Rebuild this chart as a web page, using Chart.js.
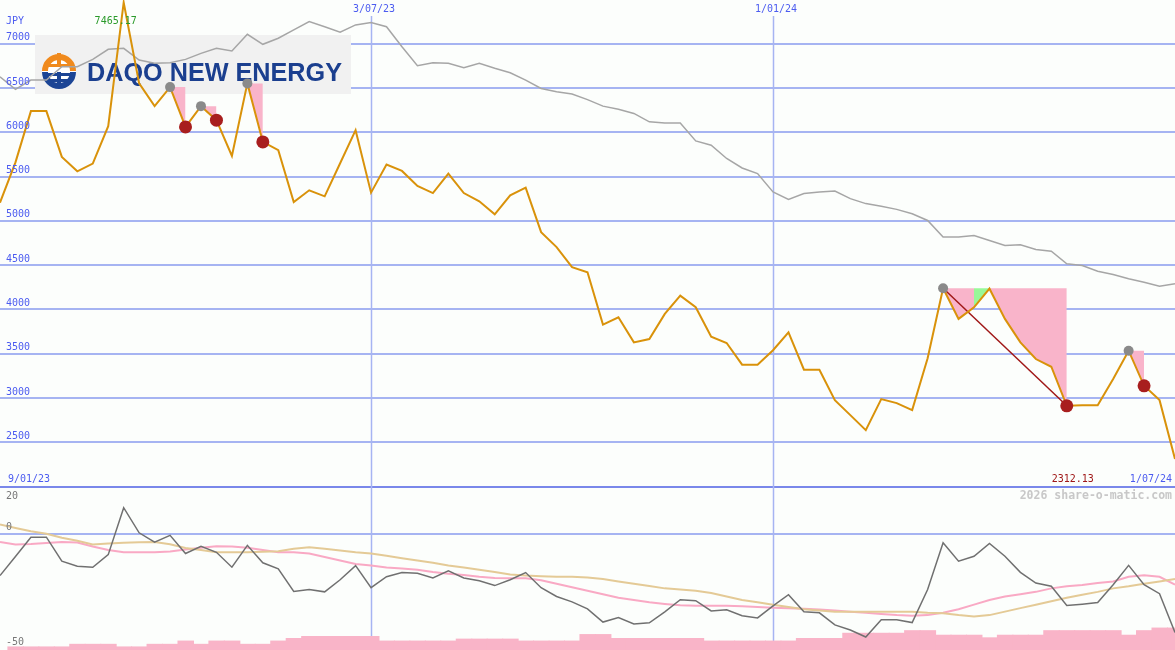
<!DOCTYPE html>
<html>
<head>
<meta charset="utf-8">
<script src="https://cdn.jsdelivr.net/npm/chart.js@4.4.0/dist/chart.umd.min.js"></script>
<style>
  html, body { margin: 0; padding: 0; background: #fcfefc; }
  canvas { display: block; }
</style>
</head>
<body>
<canvas id="chart" width="1175" height="650"></canvas>
<script>
// weekly closes, index 0 = 16/01/23 ... index 76 = 1/07/24
const price = [
  5206, 5660, 6239, 6239, 5722, 5560, 5647, 6069, 7465.17, 6552,
  6295, 6510, 6061, 6295, 6137, 5733, 6552, 5891, 5798, 5213,
  5345, 5277, 5650, 6024, 5319, 5636, 5564, 5394, 5314, 5534,
  5314, 5221, 5074, 5289, 5376, 4873, 4704, 4477, 4421, 3829,
  3912, 3629, 3667, 3950, 4157, 4025, 3693, 3622, 3377, 3377,
  3540, 3742, 3320, 3320, 2977, 2808, 2638, 2989, 2943, 2864,
  3450, 4240, 3894, 4025, 4235, 3894, 3629, 3441, 3354, 2913,
  2920, 2920, 3215, 3535, 3139, 2977, 2312.13
];
const average = [
  6627, 6484, 6589, 6589, 6740, 6740, 6823, 6937, 6948, 6816,
  6778, 6785, 6823, 6891, 6948, 6917, 7106, 6993, 7061, 7155,
  7249, 7192, 7129, 7212, 7238, 7192, 6966, 6751, 6785, 6778,
  6729, 6778, 6722, 6672, 6589, 6495, 6457, 6431, 6369, 6295,
  6261, 6213, 6118, 6106, 6106, 5903, 5854, 5704, 5597, 5534,
  5326, 5243, 5308, 5326, 5337, 5251, 5195, 5164, 5130, 5081,
  5005, 4817, 4817, 4836, 4779, 4723, 4731, 4678, 4658, 4516,
  4497, 4432, 4395, 4346, 4308, 4262, 4290
];
const momentum = [
  -18, -9.8, -1.5, -1.5, -11.8, -14, -14.4, -9, 11.2, 0.4,
  -3.6, -0.7, -8.5, -5.4, -8, -14.4, -5, -12.5, -15.1, -24.8,
  -24, -25, -19.8, -13.7, -23.2, -18.5, -16.7, -17, -19, -16,
  -19, -20.2, -22.3, -19.8, -16.7, -23.2, -27, -29.3, -32.3, -38,
  -36, -38.8, -38.3, -33.6, -28.4, -28.8, -33.2, -32.7, -35.3, -36.2,
  -31, -26.2, -33.6, -34, -39.2, -41.4, -44.4, -37, -37, -38.2,
  -24, -3.9, -11.8, -9.7, -4.2, -9.7, -16.6, -21.2, -22.6, -30.9,
  -30.3, -29.6, -21.9, -13.6, -21.9, -25.8, -42.5
];
const momentumFast = [
  -3.6, -4.6, -4.4, -4, -3.6, -3.8, -5.5, -7, -8, -8,
  -8, -7.6, -6.8, -6, -5.4, -5.5, -6, -7, -8, -8,
  -8.5, -10, -11.5, -13, -13.7, -14.5, -15, -15.5, -16.5, -17.2,
  -17.8, -18.5, -19, -19.2, -19.2, -20, -21.5, -23, -24.5, -26,
  -27.5, -28.5, -29.5, -30.2, -30.8, -31, -31, -31, -31.2, -31.5,
  -31.8, -32, -32.3, -32.6, -33, -33.5, -34, -34.5, -35, -35.3,
  -35, -34, -32.5, -30.5, -28.5, -27, -26, -25, -23.5, -22.6,
  -22, -21.2, -20.5, -18.5, -17.9, -18.5, -21.9
];
const momentumSlow = [
  4, 2.5, 1.1, 0, -1.7, -3, -4.6, -4.2, -3.9, -3.7,
  -3.6, -4.5, -6.1, -7, -8, -8, -8, -7.8, -7.5, -6.5,
  -5.8, -6.5, -7.2, -8, -8.5, -9.5, -10.5, -11.5, -12.5, -13.7,
  -14.5, -15.5, -16.5, -17.5, -18, -18.3, -18.5, -18.5, -18.8, -19.5,
  -20.5, -21.5, -22.5, -23.5, -24, -24.5, -25.5, -27, -28.5, -29.5,
  -30.5, -31.5, -32.5, -33, -33.5, -33.5, -33.5, -33.5, -33.5, -33.5,
  -34, -34.2, -35, -35.6, -35, -33.5, -32, -30.5, -29, -27.5,
  -26.2, -25, -23.5, -22.6, -21.5, -20.5, -19.5
];
// one bar per week (week i runs from point i to point i+1)
const volume = [
  5, 5, 5, 5, 9, 9, 9, 5, 5, 9,
  9, 14, 9, 14, 14, 9, 9, 14, 18, 21,
  21, 21, 21, 21, 14, 14, 14, 14, 14, 17,
  17, 17, 17, 14, 14, 14, 14, 24, 24, 18,
  18, 18, 18, 18, 18, 14, 14, 14, 14, 14,
  14, 18, 18, 18, 26, 26, 26, 26, 30, 30,
  23, 23, 23, 19, 23, 23, 23, 30, 30, 30,
  30, 30, 23, 30, 34, 34
];

const priceTicks = [2500, 3000, 3500, 4000, 4500, 5000, 5500, 6000, 6500, 7000];
const baseTick = 2000;
const lowerTicks = [20, 0, -50];
const dateLines = [24, 50];
const dateLineLabels = ['3/07/23', '1/01/24'];
const startLabel = '9/01/23';
const endLabel = '1/07/24';
const peaks = [11, 13, 16, 61, 73];
const troughs = [12, 14, 17, 69, 74];
// [peak, from, to]
const pinkZones = [[11, 11, 12], [13, 13, 14], [16, 16, 17], [61, 61, 63], [61, 64, 69], [73, 73, 74]];
const greenZones = [[61, 63, 64]];
const dropLine = [61, 69];
const highLabel = '7465.17';
const lowLabel = '2312.13';

const W = 1175;
const pts = arr => arr.map((v, i) => ({ x: i, y: v }));

const datasets = [
  { data: pts(price), borderColor: '#d9920a', borderWidth: 2, pointRadius: 0, fill: false, order: 2 },
  { data: pts(average), borderColor: '#a6a6a6', borderWidth: 1.5, pointRadius: 0, fill: false, order: 6 }
];
pinkZones.forEach(([p, a, b]) => datasets.push({
  data: [{ x: a, y: price[p] }, { x: b, y: price[p] }],
  borderColor: 'rgba(0,0,0,0)', backgroundColor: '#f9b4ca', pointRadius: 0, fill: 0, order: 8
}));
greenZones.forEach(([p, a, b]) => datasets.push({
  data: [{ x: a, y: price[p] }, { x: b, y: price[p] }],
  borderColor: 'rgba(0,0,0,0)', backgroundColor: '#98f898', pointRadius: 0, fill: 0, order: 8
}));
datasets.push({
  data: dropLine.map(i => ({ x: i, y: price[i] })),
  borderColor: '#a01818', borderWidth: 1.5, pointRadius: 0, fill: false, order: 3
});
datasets.push({
  data: peaks.map(i => ({ x: i, y: price[i] })), showLine: false, fill: false,
  pointRadius: 5, pointBackgroundColor: '#8a8a8a', pointBorderWidth: 0, order: 1
});
datasets.push({
  data: troughs.map(i => ({ x: i, y: price[i] })), showLine: false, fill: false,
  pointRadius: 6.5, pointBackgroundColor: '#a81e1e', pointBorderWidth: 0, order: 0
});
datasets.push({ data: pts(momentumSlow), yAxisID: 'y2', borderColor: '#e4ca96', borderWidth: 2, pointRadius: 0, fill: false, order: 5 });
datasets.push({ data: pts(momentumFast), yAxisID: 'y2', borderColor: '#f9a9c4', borderWidth: 2, pointRadius: 0, fill: false, order: 5 });
datasets.push({ data: pts(momentum), yAxisID: 'y2', borderColor: '#707070', borderWidth: 1.5, pointRadius: 0, fill: false, order: 4 });
datasets.push({
  type: 'bar', data: pts(volume), xAxisID: 'xb', yAxisID: 'yv',
  backgroundColor: '#f9b4c8', borderWidth: 0, barThickness: W / volume.length + 0.4, order: 9
});

const decor = {
  id: 'decor',
  beforeDatasetsDraw(chart) {
    const { ctx, scales: { x } } = chart;
    ctx.save();
    ctx.strokeStyle = '#a6b4f2';
    ctx.lineWidth = 1.5;
    dateLines.forEach(i => {
      const px = Math.round(x.getPixelForValue(i)) + 0.5;
      ctx.beginPath(); ctx.moveTo(px, 16); ctx.lineTo(px, chart.height); ctx.stroke();
    });
    // logo panel
    ctx.fillStyle = '#f1f1f1';
    ctx.fillRect(35, 35, 316, 59);
    const cx = 59, cy = 71;
    ctx.fillStyle = '#ffffff';
    ctx.beginPath(); ctx.arc(cx, cy, 17, 0, 2 * Math.PI); ctx.fill();
    ctx.lineWidth = 6;
    ctx.strokeStyle = '#f08a1d';
    ctx.beginPath(); ctx.arc(cx, cy, 14, Math.PI, 2 * Math.PI); ctx.stroke();
    ctx.fillStyle = '#f08a1d';
    ctx.fillRect(cx - 2, 53, 4, 14);
    ctx.fillRect(cx - 11, 64, 22, 3);
    ctx.strokeStyle = '#1c4595';
    ctx.beginPath(); ctx.arc(cx, cy + 1, 14, 0, Math.PI); ctx.stroke();
    ctx.fillStyle = '#1c4595';
    ctx.fillRect(cx - 13, 73, 26, 3);
    ctx.fillRect(cx - 9, 79, 18, 3);
    ctx.fillRect(cx - 2, 72, 4, 14);
    ctx.font = 'bold 26px "Liberation Sans"';
    const w = ctx.measureText('DAQO NEW ENERGY').width;
    ctx.font = 'bold ' + (26 * 255 / w).toFixed(2) + 'px "Liberation Sans"';
    ctx.fillStyle = '#1b3f8f';
    ctx.textBaseline = 'alphabetic';
    ctx.fillText('DAQO NEW ENERGY', 87, 81);
    ctx.restore();
  },
  afterDraw(chart) {
    const { ctx, scales: { x, y, y2 } } = chart;
    ctx.save();
    ctx.textBaseline = 'middle';
    ctx.font = '10px "DejaVu Sans Mono"';
    ctx.fillStyle = '#4c5cf0';
    ctx.textAlign = 'left';
    ctx.fillText('JPY', 6, 21);
    priceTicks.forEach(v => ctx.fillText(String(v), 6, y.getPixelForValue(v) - 6));
    const baseY = y.getPixelForValue(baseTick) - 7.5;
    ctx.fillText(startLabel, 8, baseY);
    ctx.textAlign = 'right';
    ctx.fillText(endLabel, chart.width - 3, baseY);
    ctx.textAlign = 'center';
    dateLines.forEach((i, k) => ctx.fillText(dateLineLabels[k], x.getPixelForValue(i) + 3, 9));
    ctx.fillStyle = '#2a9a2a';
    ctx.fillText(highLabel, x.getPixelForValue(price.indexOf(Math.max(...price))) - 8, 21);
    ctx.fillStyle = '#a01818';
    ctx.fillText(lowLabel, x.getPixelForValue(dropLine[1]) + 6, baseY);
    ctx.fillStyle = '#777777';
    ctx.textAlign = 'left';
    ctx.fillText(String(lowerTicks[0]), 6, y2.getPixelForValue(lowerTicks[0]) + 9);
    ctx.fillText(String(lowerTicks[1]), 6, y2.getPixelForValue(lowerTicks[1]) - 6);
    ctx.fillText(String(lowerTicks[2]), 6, y2.getPixelForValue(lowerTicks[2]) - 8);
    ctx.font = 'bold 11.5px "DejaVu Sans Mono"';
    ctx.fillStyle = '#c8c8c8';
    ctx.textAlign = 'right';
    ctx.fillText('2026 share-o-matic.com', chart.width - 3, y.getPixelForValue(baseTick) + 9.5);
    ctx.restore();
  }
};

new Chart(document.getElementById('chart'), {
  type: 'line',
  data: { datasets },
  options: {
    responsive: false,
    animation: false,
    devicePixelRatio: 1,
    layout: { padding: 0, autoPadding: false },
    plugins: { legend: { display: false }, tooltip: { enabled: false } },
    scales: {
      x: { type: 'linear', min: 0, max: 76, display: false },
      xb: {
        type: 'linear', axis: 'x', min: -0.5, max: 75.5, display: false,
        afterBuildTicks: axis => { axis.ticks = []; }
      },
      y: {
        type: 'linear', position: 'left', min: 157, max: 7493,
        ticks: { display: false },
        border: { display: false },
        afterBuildTicks: axis => { axis.ticks = [baseTick, ...priceTicks].map(v => ({ value: v })); },
        grid: {
          drawTicks: false, lineWidth: 2,
          color: c => c.tick && c.tick.value === baseTick ? '#7a88ea' : '#a6b4f2'
        }
      },
      y2: {
        type: 'linear', position: 'left', min: -50, max: 229.5,
        ticks: { display: false },
        border: { display: false },
        afterBuildTicks: axis => { axis.ticks = [{ value: 0 }]; },
        grid: { drawTicks: false, lineWidth: 2, color: '#a6b4f2' }
      },
      yv: { type: 'linear', min: 0, max: 1000, display: false }
    }
  },
  plugins: [decor]
});
</script>
</body>
</html>
